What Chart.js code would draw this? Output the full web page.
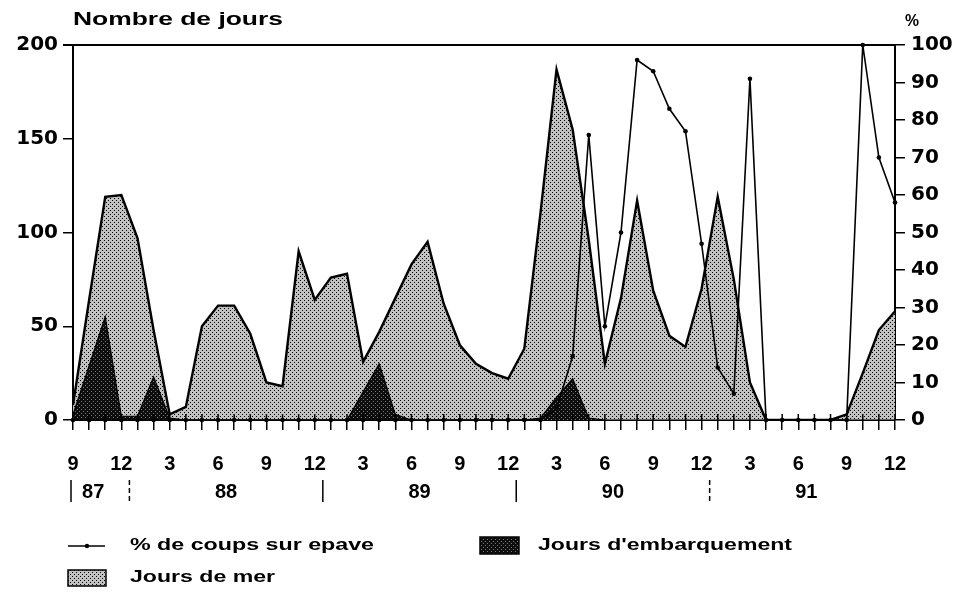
<!DOCTYPE html>
<html><head><meta charset="utf-8">
<script src="https://cdn.jsdelivr.net/npm/chart.js@4.4.1/dist/chart.umd.min.js"></script>
<style>html,body{margin:0;padding:0;background:#fff;overflow:hidden}canvas{display:block}</style>
</head><body>
<canvas id="c" width="970" height="601"></canvas>
<script>
// ---- DATA ----
const months = ['1987-09','1987-10','1987-11','1987-12',
 '1988-01','1988-02','1988-03','1988-04','1988-05','1988-06','1988-07','1988-08','1988-09','1988-10','1988-11','1988-12',
 '1989-01','1989-02','1989-03','1989-04','1989-05','1989-06','1989-07','1989-08','1989-09','1989-10','1989-11','1989-12',
 '1990-01','1990-02','1990-03','1990-04','1990-05','1990-06','1990-07','1990-08','1990-09','1990-10','1990-11','1990-12',
 '1991-01','1991-02','1991-03','1991-04','1991-05','1991-06','1991-07','1991-08','1991-09','1991-10','1991-11','1991-12'];
const tickLabels = ['9','12','3','6','9','12','3','6','9','12','3','6','9','12','3','6','9','12'];
const yearLabels = ['87','88','89','90','91'];
const joursDeMer = [8,64,119,120, 97,48,3,7,50,61,61,46,20,18,90,64,
 76,78,31,47,65,83,95,62,40,30,25,22,
 38,110,187,155,96,30,65,117,69,45,39,70,
 119,75,20,0,0,0,0,0,3,25,48,58];
const joursEmbarquement = [3,29,55,2, 2,23,1,0,0,0,0,0,0,0,0,0,
 0,0,15,30,3,0,0,0,0,0,0,0,
 0,1,12,22,1,0,0,0,0,0,0,0,
 0,0,0,0,0,0,0,0,0,0,0,0];
const pctCoupsEpave = [0,0,0,0, 0,0,0,0,0,0,0,0,0,0,0,0,
 0,0,0,0,0,0,0,0,0,0,0,0,
 0,0,3,17,76,25,50,96,93,83,77,47,
 14,7,91,0,0,0,0,0,0,100,70,58];
const seriesNames = ['% de coups sur epave','Jours d\'embarquement','Jours de mer'];
const leftTitle = 'Nombre de jours';
const rightTitle = '%';

// ---- patterns ----
function makePattern(bg, dot, pts, size){
  const c=document.createElement('canvas'); c.width=size; c.height=size;
  const g=c.getContext('2d'); g.fillStyle=bg; g.fillRect(0,0,size,size);
  g.fillStyle=dot; pts.forEach(p=>g.fillRect(p[0],p[1],1,1));
  return g.createPattern(c,'repeat');
}
const lightPat = makePattern('#c2c2c2','#000',[[0,0],[2,2]],4);
const darkPat = makePattern('#0d0d0d','#7a7a7a',[[1,1],[3,3]],4);

function stretchText(ctx, text, left, cy, width, font){
  ctx.save(); ctx.font=font; ctx.textBaseline='middle'; ctx.textAlign='left'; ctx.fillStyle='#000';
  const w=ctx.measureText(text).width;
  ctx.translate(left, cy); ctx.scale(width/w,1); ctx.fillText(text,0,0); ctx.restore();
}

const decor = {
  id:'decor',
  afterDraw(chart){
    const {ctx, chartArea:a, scales:{x}} = chart;
    ctx.save();
    ctx.strokeStyle='#000'; ctx.fillStyle='#000';
    // top frame line
    ctx.lineWidth=2; ctx.beginPath(); ctx.moveTo(a.left-10,a.top); ctx.lineTo(a.right,a.top); ctx.stroke();
    // inner month ticks
    ctx.lineWidth=1.5;
    months.forEach((m,i)=>{const px=x.getPixelForValue(i); ctx.beginPath(); ctx.moveTo(px,a.bottom-6); ctx.lineTo(px,a.bottom); ctx.stroke();});
    // year row
    const yRow = 492;
    ctx.font="bold 20px 'Liberation Sans Narrow','Liberation Sans',Arial,sans-serif";
    ctx.textAlign='center'; ctx.textBaseline='middle';
    const years = {};
    months.forEach((m,i)=>{const yy=m.slice(2,4); (years[yy]=years[yy]||[]).push(i);});
    yearLabels.forEach(yy=>{
      const idx=years[yy]; const c=(idx[0]+idx[idx.length-1])/2;
      ctx.fillText(yy, x.getPixelForValue(c)-(yy==='87'?4:0), yRow);
    });
    // separators
    const seps=[0];
    months.forEach((m,i)=>{ if(i>0 && m.slice(5)==='01') seps.push(i-0.5); });
    seps.forEach((s,k)=>{
      const px=x.getPixelForValue(s)+(k===0?-2:0);
      ctx.lineWidth=1.5;
      if(k===1||k===4) ctx.setLineDash([5,3]); else ctx.setLineDash([]);
      ctx.beginPath(); ctx.moveTo(px,yRow-12); ctx.lineTo(px,yRow+10); ctx.stroke();
    });
    ctx.setLineDash([]);
    // titles
    stretchText(ctx, leftTitle, 73, 20, 210, "bold 18px 'Liberation Sans',Arial,sans-serif");
    stretchText(ctx, rightTitle, 905, 22, 14, "bold 16px 'Liberation Sans',Arial,sans-serif");
    // legend
    const lf="bold 16px 'Liberation Sans',Arial,sans-serif";
    ctx.lineWidth=1.5; ctx.beginPath(); ctx.moveTo(68,546); ctx.lineTo(105,546); ctx.stroke();
    ctx.beginPath(); ctx.arc(87,546,2.2,0,Math.PI*2); ctx.fill();
    stretchText(ctx, seriesNames[0], 130, 546, 244, lf);
    ctx.fillStyle=darkPat; ctx.fillRect(480,537,39,17); ctx.strokeRect(480,537,39,17);
    stretchText(ctx, seriesNames[1], 538, 546, 254, lf);
    ctx.fillStyle=lightPat; ctx.fillRect(68,570,38,16); ctx.lineWidth=1.5; ctx.strokeRect(68,570,38,16);
    stretchText(ctx, seriesNames[2], 130, 578, 145, lf);
    ctx.restore();
  }
};

Chart.defaults.font.family="'Liberation Sans',Arial,sans-serif";
Chart.defaults.color='#000';

new Chart(document.getElementById('c'), {
  type:'line',
  data:{
    labels: months,
    datasets:[
      {label:seriesNames[0], data:pctCoupsEpave, yAxisID:'y2', order:0,
       borderColor:'#000', borderWidth:1.6, pointRadius:2.3, pointBackgroundColor:'#000', pointBorderWidth:0,
       fill:false, tension:0, clip:6},
      {label:seriesNames[1], data:joursEmbarquement, yAxisID:'y', order:1,
       borderColor:'#000', borderWidth:1.2, pointRadius:0, backgroundColor:darkPat, fill:'origin', tension:0},
      {label:seriesNames[2], data:joursDeMer, yAxisID:'y', order:2,
       borderColor:'#000', borderWidth:2.4, pointRadius:0, backgroundColor:lightPat, fill:'origin', tension:0}
    ]
  },
  options:{
    responsive:false, devicePixelRatio:1, animation:false,
    layout:{padding:{top:45,left:0,right:0,bottom:0}},
    plugins:{legend:{display:false}, tooltip:{enabled:false}, title:{display:false}},
    scales:{
      x:{type:'category', offset:false,
        afterFit(s){ s.height=181; },
        grid:{display:true, drawOnChartArea:false, drawTicks:true, tickLength:10, color:'#000', lineWidth:1.5},
        border:{display:true, color:'#000', width:2},
        ticks:{autoSkip:false, maxRotation:0, minRotation:0, padding:22,
          font:{family:"'Liberation Sans Narrow','Liberation Sans',Arial,sans-serif", size:20, weight:'bold'},
          callback:(v,i)=> i%3===0 ? tickLabels[i/3] : ''}
      },
      y:{position:'left', min:0, max:200,
        afterFit(s){ s.width=73; },
        grid:{display:true, drawOnChartArea:false, tickLength:10, color:'#000', lineWidth:1.5},
        border:{display:true, color:'#000', width:2},
        ticks:{stepSize:50, padding:5, font:{family:"'DejaVu Sans',sans-serif", size:20, weight:'bold'}}
      },
      y2:{position:'right', min:0, max:100,
        afterFit(s){ s.width=75; },
        grid:{display:true, drawOnChartArea:false, tickLength:10, color:'#000', lineWidth:1.5},
        border:{display:true, color:'#000', width:2},
        ticks:{stepSize:10, padding:6, font:{family:"'DejaVu Sans',sans-serif", size:20, weight:'bold'}}
      }
    }
  },
  plugins:[decor]
});
</script>
</body></html>
